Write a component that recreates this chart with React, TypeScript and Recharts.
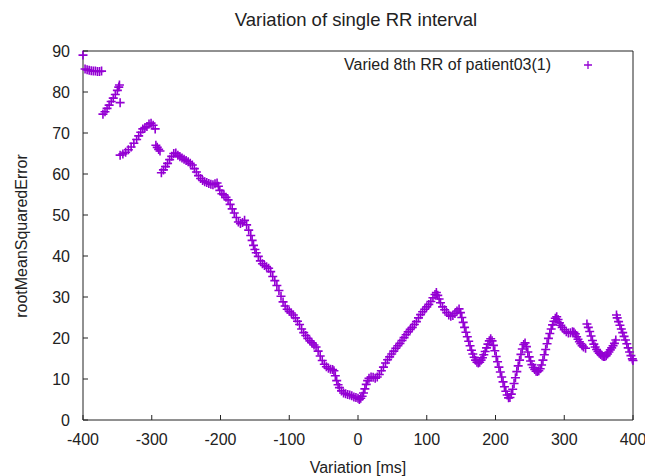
import { Legend, Scatter, ScatterChart, XAxis, YAxis } from 'recharts';

// values (x = variation in ms, y = RMSE)
const variation = [
  -400, -397, -394, -391, -388, -385, -382, -379, -376, -373,
  -371, -368, -365, -362, -359, -356, -353, -350, -348, -347, -346,
  -346, -342, -338, -334, -330, -326, -322, -319, -316, -313, -310, -307, -304, -301, -298, -295,
  -294, -292, -290, -288,
  -286, -283, -280, -277, -274, -271, -268, -265, -262, -259, -256, -253, -250, -247, -244, -241,
  -238, -235, -232, -229, -226, -223, -220, -217, -214, -211, -208, -205, -203, -201, -198, -195,
  -192, -189, -186, -183, -180, -177, -174, -171, -168, -165, -162, -159, -156, -154, -152, -150,
  -148, -145, -142, -139, -136, -133, -130, -127, -124, -121, -118, -115, -112, -109, -106, -103,
  -100, -97, -94, -91, -88, -85, -82, -79, -76, -73, -70, -67, -64, -61, -58, -55, -52, -49, -46,
  -43, -40, -37, -35, -33, -31, -29, -27, -24, -21, -18, -15, -12, -9, -6, -3, 0, 2, 4, 6, 8, 10,
  12, 14, 16, 19, 22, 25, 28, 31, 34, 37, 40, 43, 46, 49, 52, 55, 58, 61, 64, 67, 70, 73, 76, 79,
  82, 85, 88, 91, 94, 97, 100, 103, 106, 109, 112, 114, 116, 118, 120, 123, 126, 129, 132, 135,
  138, 141, 144, 147, 149, 151, 153, 155, 157, 159, 161, 163, 165, 167, 169, 171, 173, 175, 177,
  179, 181, 183, 185, 187, 189, 191, 193, 195, 197, 199, 201, 203, 205, 207, 209, 211, 213, 215,
  217, 219, 221, 223, 225, 227, 229, 231, 233, 235, 237, 239, 241, 243, 245, 247, 249, 251, 253,
  255, 257, 259, 261, 263, 265, 267, 269, 271, 273, 275, 277, 279, 281, 283, 285, 287, 289, 291,
  293, 295, 297, 300, 303, 306, 309, 312, 314, 316, 318, 320, 322, 324, 326, 328, 331,
  333, 335, 337, 339, 341, 343, 345, 347, 349, 351, 353, 355, 357, 359, 361, 363, 365, 367, 369,
  371, 373, 375, 376, 377, 379, 381, 383, 385, 387, 389, 391, 393, 395, 397, 399, 400,
];

const rmse = [
  89, 85.6, 85.4, 85.3, 85.2, 85.1, 85.1, 85.0, 85.0, 85.1,
  74.6, 75.2, 76.0, 76.8, 77.7, 78.5, 79.4, 80.4, 81.2, 81.7, 77.4,
  64.6, 64.9, 65.3, 65.9, 66.6, 67.5, 68.4, 69.3, 70.2, 71.0, 71.3, 71.6, 72.2, 72.4, 71.9, 71.0,
  67.0, 66.5, 66.0, 65.6,
  60.3, 61.0, 61.8, 62.6, 63.5, 64.3, 65.0, 65.1, 64.6, 64.2, 63.9, 63.6, 63.3, 63.0, 62.6, 62.2,
  61.3, 60.5, 59.6, 58.9, 58.4, 58.1, 57.9, 57.7, 57.5, 57.4, 57.6, 57.8, 57.0, 56.0, 55.2, 54.9,
  54.3, 53.7, 52.6, 51.5, 50.5, 49.4, 48.3, 47.9, 48.2, 48.7, 47.6, 46.3, 45.0, 43.8, 42.6, 41.6,
  40.8, 39.9, 38.8, 38.1, 37.7, 37.4, 37.0, 36.2, 35.0, 34.0, 32.8, 31.6, 30.2, 28.8, 27.8, 27.0,
  26.5, 26.1, 25.6, 24.9, 24.1, 23.3, 22.2, 21.3, 20.6, 19.9, 19.3, 18.8, 18.3, 17.8, 16.8, 15.6, 14.5, 13.6, 13.0,
  12.6, 12.4, 12.3, 12.0, 10.8, 9.6, 8.6, 7.9, 7.1, 6.6, 6.4, 6.2, 6.1, 5.9, 5.6, 5.5, 5.3, 5.0, 5.3, 5.8, 6.6, 7.6,
  8.7, 9.6, 10.2, 10.5, 10.4, 10.2, 10.5, 11.1, 12.0, 12.9, 13.9, 14.7, 15.4, 16.1, 16.8, 17.5, 18.1, 18.7, 19.4, 20.1, 20.8, 21.5, 22.1, 22.6,
  23.3, 24.0, 24.9, 25.7, 26.4, 27.0, 27.6, 28.2, 28.9, 29.8, 30.6, 31.1, 30.4, 29.5, 28.6, 27.6, 26.9, 26.2, 25.6, 25.3,
  25.5, 26.0, 26.6, 27.1, 26.2, 25.0, 23.8, 22.6, 21.4, 20.3, 19.2, 18.1, 17.0, 16.1, 15.3, 14.6, 14.1, 13.9, 14.1,
  14.6, 15.2, 15.9, 16.7, 17.6, 18.5, 19.3, 19.8, 19.3, 18.2, 16.9, 15.5, 14.2, 12.9, 11.7, 10.5, 9.3, 8.1, 7.0,
  6.1, 5.4, 5.5, 6.3, 7.5, 8.9, 10.3, 11.8, 13.2, 14.6, 16.0, 17.3, 18.4, 18.8, 17.9, 16.6, 15.4, 14.4, 13.5,
  12.8, 12.3, 11.9, 11.8, 12.0, 12.5, 13.4, 14.6, 15.9, 17.2, 18.6, 19.9, 21.1, 22.2, 23.2, 24.1, 24.8, 25.2, 24.5,
  23.7, 23.1, 22.6, 22.0, 21.5, 21.2, 21.3, 21.5, 21.4, 21.0, 20.3, 19.7, 19.1, 18.6, 18.1, 17.8, 17.5,
  23.4, 22.6, 21.6, 20.5, 19.4, 18.5, 17.8, 17.2, 16.7, 16.3, 16.0, 15.7, 15.5, 15.5, 15.7, 16.1, 16.6, 17.1, 17.6,
  18.1, 18.7, 19.5, 25.6, 24.9, 24.0, 23.1, 22.2, 21.3, 20.4, 19.5, 18.6, 17.6, 16.6, 15.7, 14.9, 14.5,
];

const xTicks = [-400, -300, -200, -100, 0, 100, 200, 300, 400];
const yTicks = [0, 10, 20, 30, 40, 50, 60, 70, 80, 90];
const seriesName = 'Varied 8th RR of patient03(1)';

const points = variation.map((x, i) => ({ x, y: rmse[i] }));

const PURPLE = '#9400d3';
const INK = '#222';
const FONT = '"Liberation Sans", Arial, sans-serif';

function Plus({ cx, cy }: any) {
  return <path d={`M${cx - 4.5},${cy}h9M${cx},${cy - 4.5}v9`} stroke={PURPLE} strokeWidth={1.6} fill="none" />;
}

const BottomTick = ({ x, y, payload }: any) => (
  <g>
    <line x1={x} x2={x} y1={y - 14} y2={y - 19} stroke={INK} />
    <text x={x} y={y} dy="0.71em" textAnchor="middle" fill={INK} fontSize={16} fontFamily={FONT}>
      {payload.value}
    </text>
  </g>
);

const TopTick = ({ x, y }: any) => <line x1={x} x2={x} y1={y} y2={y + 5} stroke={INK} />;

const LeftTick = ({ x, y, payload }: any) => (
  <g>
    <line x1={x + 13} x2={x + 18} y1={y} y2={y} stroke={INK} />
    <text x={x} y={y} dy="0.355em" textAnchor="end" fill={INK} fontSize={16} fontFamily={FONT}>
      {payload.value}
    </text>
  </g>
);

const RightTick = ({ x, y }: any) => <line x1={x - 5} x2={x} y1={y} y2={y} stroke={INK} />;

const Title = () => (
  <text x={356} y={26} textAnchor="middle" fill={INK} fontSize={18.5} fontFamily={FONT}>
    Variation of single RR interval
  </text>
);

const YTitle = () => (
  <text x={27} y={236} textAnchor="middle" transform="rotate(-90 27 236)" fill={INK} fontSize={16} fontFamily={FONT}>
    rootMeanSquaredError
  </text>
);

const LegendBox = ({ payload }: any) => (
  <div style={{ position: 'relative', width: 270, height: 20, fontFamily: FONT, fontSize: 16, color: INK }}>
    <span style={{ position: 'absolute', right: 49, top: 0, lineHeight: '20px', whiteSpace: 'nowrap' }}>
      {payload && payload[0] ? payload[0].value : seriesName}
    </span>
    <svg style={{ position: 'absolute', left: 253, top: 5 }} width={10} height={10}>
      <path d="M1,5h8M5,1v8" stroke={PURPLE} strokeWidth={1.3} />
    </svg>
  </div>
);

export default function App() {
  return (
    <div style={{ position: 'absolute', left: 0, top: 0, background: '#fff' }}>
      <ScatterChart width={645} height={476} margin={{ top: 50, right: 11, bottom: 0, left: 0 }}>
        <XAxis
          dataKey="x"
          type="number"
          domain={[-400, 400]}
          ticks={xTicks}
          height={56}
          tickSize={0}
          tickMargin={14}
          tick={<BottomTick />}
          tickLine={false}
          axisLine={{ stroke: INK }}
          label={{ value: 'Variation [ms]', position: 'insideBottom', offset: 3, fill: INK, fontSize: 16, fontFamily: FONT }}
        />
        <XAxis
          xAxisId="top"
          orientation="top"
          type="number"
          domain={[-400, 400]}
          ticks={xTicks}
          height={1}
          tickSize={0}
          tickMargin={0}
          tick={<TopTick />}
          tickLine={false}
          axisLine={{ stroke: INK }}
          label={<Title />}
        />
        <YAxis
          dataKey="y"
          type="number"
          domain={[0, 90]}
          ticks={yTicks}
          width={83}
          tickSize={0}
          tickMargin={13}
          tick={<LeftTick />}
          tickLine={false}
          axisLine={{ stroke: INK }}
          label={<YTitle />}
        />
        <YAxis
          yAxisId="right"
          orientation="right"
          type="number"
          domain={[0, 90]}
          ticks={yTicks}
          width={1}
          tickSize={0}
          tickMargin={0}
          tick={<RightTick />}
          tickLine={false}
          axisLine={{ stroke: INK }}
        />
        <Legend
          layout="horizontal"
          verticalAlign="middle"
          align="center"
          wrapperStyle={{ left: 330, top: 55, width: 270, height: 20 }}
          content={<LegendBox />}
        />
        <Scatter name={seriesName} data={points} fill={PURPLE} shape={<Plus />} isAnimationActive={false} />
      </ScatterChart>
    </div>
  );
}
